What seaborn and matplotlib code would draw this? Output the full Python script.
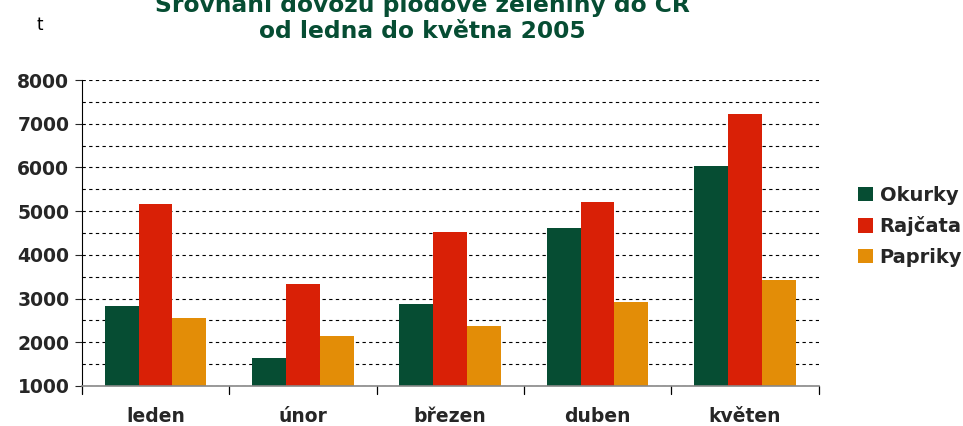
import pandas as pd
import matplotlib.pyplot as plt
import seaborn as sns

# dovoz plodové zeleniny (t), leden-květen 2005
mesice = ['leden', 'únor', 'březen', 'duben', 'květen']
okurky = [2830, 1640, 2875, 4615, 6035]
rajcata = [5165, 3330, 4530, 5210, 7225]
papriky = [2555, 2145, 2370, 2920, 3425]
druhy = ['Okurky', 'Rajčata', 'Papriky']
barvy = ['#064D33', '#D92006', '#E38D07']

data = pd.DataFrame({'mesic': mesice * 3,
                     'druh': [d for d in druhy for _ in mesice],
                     'tuny': okurky + rajcata + papriky})

sns.set_style('white')
plt.rcParams['font.family'] = ['DejaVu Sans']

fig = plt.figure(figsize=(9.63, 4.26), dpi=100)
ax = fig.add_axes([0.085, 0.094, 0.765, 0.718])
sns.barplot(data=data, x='mesic', y='tuny', hue='druh', palette=barvy,
            width=0.69, gap=0, saturation=1, linewidth=0, edgecolor='none', ax=ax)

ax.set_ylim(1000, 8000)
ax.set_yticks(range(1000, 8001, 1000))
ax.set_yticks(range(1500, 8000, 1000), minor=True)
ax.set_xlim(-0.5, 4.5)
ax.grid(axis='y', which='both', color='black', linestyle=(0, (3, 3)), linewidth=0.8)
ax.set_axisbelow(True)
ax.set_xlabel('')
ax.set_ylabel('')

for s in ['top', 'right']:
    ax.spines[s].set_visible(False)
ax.spines['left'].set_color('black')
ax.spines['bottom'].set_color('#888888')
ax.spines['bottom'].set_linewidth(1.2)

ax.tick_params(axis='y', which='major', left=True, length=5, labelsize=13.5, pad=4)
ax.tick_params(axis='y', which='minor', left=False)
ax.tick_params(axis='x', bottom=False, labelsize=13.5, pad=12)
for lab in ax.get_yticklabels() + ax.get_xticklabels():
    lab.set_fontweight('bold')
# tick marks between months
for x in [-0.5, 0.5, 1.5, 2.5, 3.5, 4.5]:
    ax.plot([x, x], [0, -0.025], transform=ax.get_xaxis_transform(),
            color='black', lw=0.9, clip_on=False)

ax.legend(title=None, loc='center left', bbox_to_anchor=(1.03, 0.522), frameon=False,
          prop={'weight': 'bold', 'size': 14}, handlelength=0.75, handleheight=0.75,
          handletextpad=0.35, labelspacing=0.6)

fig.text(0.038, 0.93, 't', fontsize=12, color='black')
fig.text(0.439, 0.972, 'Srovnání dovozu plodové zeleniny do ČR', ha='center', va='baseline',
         fontsize=16.8, fontweight='bold', color='#064D33')
fig.text(0.439, 0.911, 'od ledna do května 2005', ha='center', va='baseline',
         fontsize=16.8, fontweight='bold', color='#064D33')

plt.savefig('out.png', dpi=100)
